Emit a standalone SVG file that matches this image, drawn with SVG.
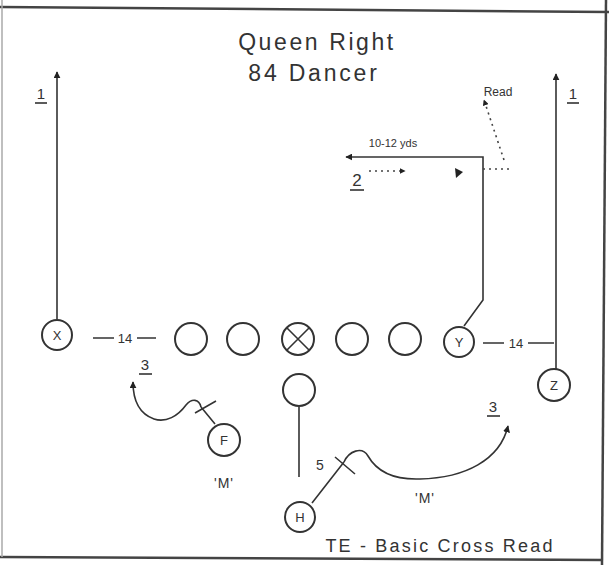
<svg xmlns="http://www.w3.org/2000/svg" width="609" height="565" viewBox="0 0 609 565">
<style>
.p{fill:#fff;stroke:#333;stroke-width:2}
.l{fill:none;stroke:#333;stroke-width:1.6}
.d{fill:none;stroke:#444;stroke-width:1.6;stroke-dasharray:2 4}
.t{font-family:"Liberation Sans",Arial,sans-serif;fill:#333}
.b{fill:none;stroke:#444;stroke-width:2.5}
</style>
<defs>
<marker id="ah" viewBox="0 0 10 10" refX="9" refY="5" markerWidth="7" markerHeight="7" orient="auto" markerUnits="userSpaceOnUse"><path d="M0,0 L10,5 L0,10 z" fill="#222"/></marker>
<marker id="as" viewBox="0 0 10 10" refX="9" refY="5" markerWidth="6" markerHeight="6" orient="auto" markerUnits="userSpaceOnUse"><path d="M0,0 L10,5 L0,10 z" fill="#222"/></marker>
</defs>
<rect width="609" height="565" fill="#fff"/>
<g id="border">
<path class="b" d="M0,7 L609,12"/>
<path class="b" d="M606,0 L602,565"/>
<path class="b" d="M0,557 L603,560"/>
<path fill="none" stroke="#aaa" stroke-width="1.5" d="M2,0 L2,557"/>
</g>
<g id="title">
<text class="t" x="317" y="50" font-size="23" letter-spacing="2.6" text-anchor="middle">Queen Right</text>
<text class="t" x="314" y="81" font-size="23" letter-spacing="2.8" text-anchor="middle">84 Dancer</text>
</g>
<g id="connectors">
<path class="l" d="M57,319 L57,72" marker-end="url(#ah)"/>
<path class="l" d="M556,369 L556,74" marker-end="url(#ah)"/>
<path class="l" d="M464,326 L483,300 L483,157 L346,157" marker-end="url(#ah)"/>
<path class="d" d="M369,171 L405,171" marker-end="url(#as)"/>
<path class="d" d="M483,169 L512,169"/>
<path class="d" d="M504,160 L484,100" marker-end="url(#as)"/>
<path d="M455,168 L463,172 L456,178 z" fill="#222"/>
<path class="l" d="M93,338 L114,338 M137,338 L156,338"/>
<path class="l" d="M483,343 L504,343 M528,343 L554,343"/>
<path class="l" d="M299,407 L299,477"/>
<path class="l" d="M215,424 L201,407 M195,413 L216,401"/>
<path class="l" d="M201,407 C199,399 192,398 186,405 C178,416 166,423 154,419 C140,414 133,402 133,382" marker-end="url(#ah)"/>
<path class="l" d="M312,503 L344,462 M335,457 L355,474"/>
<path class="l" d="M344,462 C349,451 362,446 368,456 C376,470 392,480 420,479 C465,478 500,460 508,426" marker-end="url(#ah)"/>
</g>
<g id="labels">
<text class="t" x="41" y="99" font-size="15" text-anchor="middle">1</text>
<path class="l" d="M35,103 L47,103"/>
<text class="t" x="573" y="99" font-size="15" text-anchor="middle">1</text>
<path class="l" d="M567,103 L579,103"/>
<text class="t" x="393" y="147" font-size="11" text-anchor="middle">10-12 yds</text>
<text class="t" x="357" y="186" font-size="17" text-anchor="middle">2</text>
<path class="l" d="M350,190 L364,190"/>
<text class="t" x="498" y="96" font-size="12" text-anchor="middle">Read</text>
<text class="t" x="125" y="343" font-size="13" text-anchor="middle">14</text>
<text class="t" x="516" y="348" font-size="13" text-anchor="middle">14</text>
<text class="t" x="145" y="370" font-size="15" text-anchor="middle">3</text>
<path class="l" d="M139,374 L152,374"/>
<text class="t" x="493" y="412" font-size="15" text-anchor="middle">3</text>
<path class="l" d="M487,416 L500,416"/>
<text class="t" x="224" y="488" font-size="14" letter-spacing="1" text-anchor="middle">'M'</text>
<text class="t" x="425" y="503" font-size="14" letter-spacing="1" text-anchor="middle">'M'</text>
<text class="t" x="320" y="470" font-size="14" text-anchor="middle">5</text>
<text class="t" x="440" y="552" font-size="18" letter-spacing="2.2" text-anchor="middle">TE - Basic Cross Read</text>
</g>
<g id="node-X"><circle class="p" cx="57" cy="335" r="15"/><text class="t" x="57" y="340" font-size="13" text-anchor="middle">X</text></g>
<g id="node-LT"><circle class="p" cx="191" cy="339" r="16"/></g>
<g id="node-LG"><circle class="p" cx="243" cy="339" r="16"/></g>
<g id="node-C"><circle class="p" cx="298" cy="339" r="16"/><path class="l" d="M287,328 L309,350 M309,328 L287,350"/></g>
<g id="node-RG"><circle class="p" cx="352" cy="339" r="16"/></g>
<g id="node-RT"><circle class="p" cx="405" cy="339" r="16"/></g>
<g id="node-Y"><circle class="p" cx="459" cy="342" r="15"/><text class="t" x="459" y="347" font-size="13" text-anchor="middle">Y</text></g>
<g id="node-Z"><circle class="p" cx="554" cy="385" r="16"/><text class="t" x="554" y="390" font-size="13" text-anchor="middle">Z</text></g>
<g id="node-QB"><circle class="p" cx="299" cy="390" r="16"/></g>
<g id="node-F"><circle class="p" cx="224" cy="440" r="16"/><text class="t" x="224" y="445" font-size="13" text-anchor="middle">F</text></g>
<g id="node-H"><circle class="p" cx="300" cy="517" r="15"/><text class="t" x="300" y="522" font-size="13" text-anchor="middle">H</text></g>
</svg>
